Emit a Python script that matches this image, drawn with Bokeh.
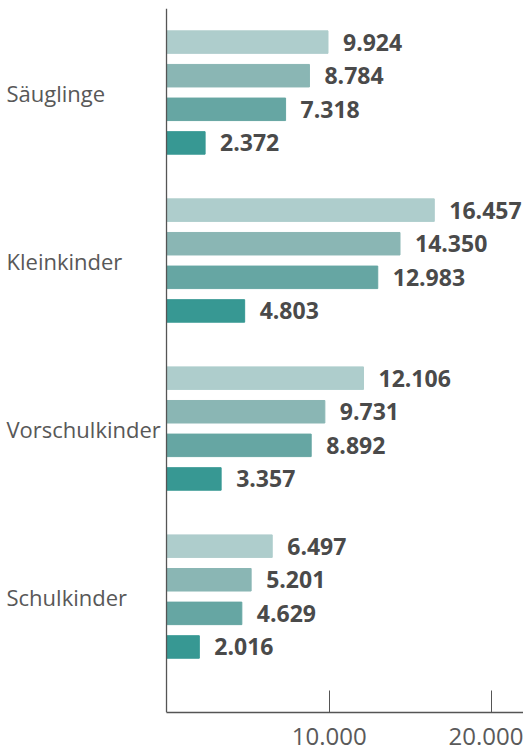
from bokeh.plotting import figure
from bokeh.models import Range1d, FixedTicker, ColumnDataSource, Span
from bokeh.embed import file_html
from bokeh.resources import INLINE
from bokeh.core.properties import value

categories = ["Säuglinge", "Kleinkinder", "Vorschulkinder", "Schulkinder"]
series_1 = [9924, 16457, 12106, 6497]
series_2 = [8784, 14350, 9731, 5201]
series_3 = [7318, 12983, 8892, 4629]
series_4 = [2372, 4803, 3357, 2016]
x_ticks = [10000, 20000]
x_tick_labels = ["10.000", "20.000"]

series = [series_1, series_2, series_3, series_4]
colors = ["#aecdcc", "#8ab6b4", "#66a6a3", "#379893"]
offsets = [-0.3, -0.1, 0.1, 0.3]

FONT = "Open Sans"
X_START = -10203
X_END = 21940

p = figure(width=523, height=751, output_backend="svg", toolbar_location=None,
           x_range=Range1d(X_START, X_END), y_range=Range1d(3.69, -0.5),
           min_border_left=0, min_border_right=0, min_border_top=8,
           min_border_bottom=39)
p.outline_line_color = None
p.xgrid.grid_line_color = None
p.ygrid.grid_line_color = None
p.background_fill_color = "white"
p.border_fill_color = "white"
p.yaxis.visible = False

for vals, col, off in zip(series, colors, offsets):
    ys = [i + off for i in range(len(categories))]
    labels = [f"{v:,}".replace(",", ".") for v in vals]
    src = ColumnDataSource(dict(y=ys, right=vals, label=labels))
    p.hbar(y="y", left=0, right="right", height=0.134, color=col, source=src)
    p.text(x="right", y="y", text="label", source=src, x_offset=15,
           text_baseline="middle", text_align="left",
           text_font=value(FONT), text_font_style="bold",
           text_font_size="23px", text_color="#4a4a4a")

# category labels, left aligned at the left edge
cat_src = ColumnDataSource(dict(x=[X_START] * len(categories),
                                y=list(range(len(categories))),
                                text=categories))
p.text(x="x", y="y", text="text", source=cat_src, x_offset=6,
       text_baseline="middle", text_align="left",
       text_font=value(FONT), text_font_size="22px", text_color="#585858")

# vertical axis line at zero
p.add_layout(Span(location=0, dimension="height", line_color="#555555",
                  line_width=1.3))

# x axis
xa = p.xaxis[0]
xa.bounds = (0, X_END)
xa.ticker = FixedTicker(ticks=x_ticks)
xa.major_label_overrides = {t: l for t, l in zip(x_ticks, x_tick_labels)}
xa.major_tick_in = 22
xa.major_tick_out = 0
xa.minor_tick_line_color = None
xa.axis_line_color = "#555555"
xa.major_tick_line_color = "#555555"
xa.axis_line_width = 1.3
xa.major_label_text_font = FONT
xa.major_label_text_font_size = "24px"
xa.major_label_text_color = "#5a5a5a"
xa.major_label_standoff = 15

open("out.html", "w").write(file_html(p, INLINE))
